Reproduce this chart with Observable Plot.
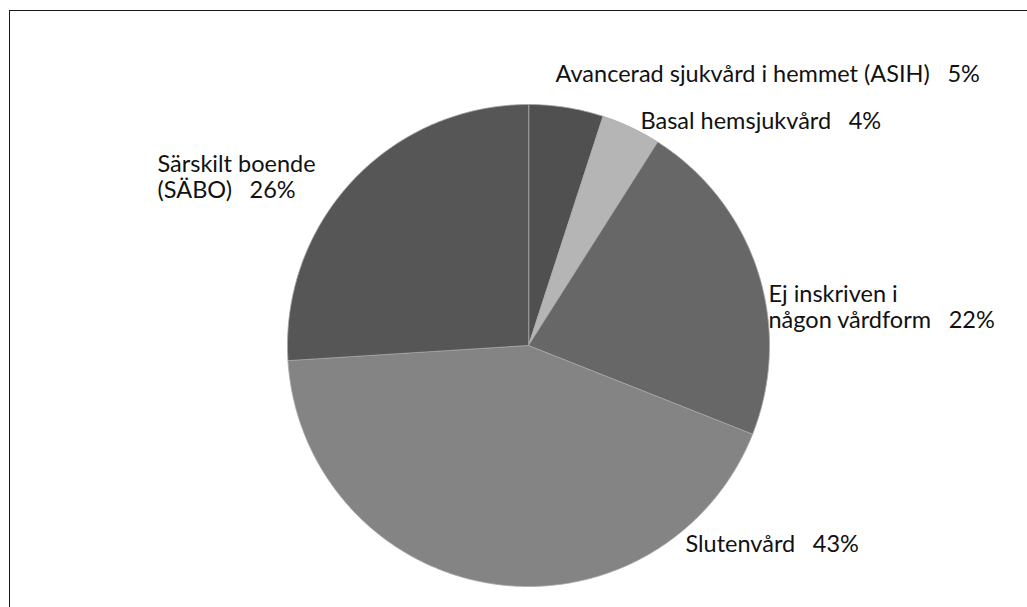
<!DOCTYPE html>
<html><head><meta charset="utf-8">
<script src="https://cdn.jsdelivr.net/npm/d3@7"></script>
<script src="https://cdn.jsdelivr.net/npm/@observablehq/plot@0.6"></script>
<style>
html,body{margin:0;padding:0;background:#fff;overflow:hidden;width:1027px;height:607px;}
#frame{position:absolute;left:9px;top:10px;width:1100px;height:700px;border-left:1.5px solid #1a1a1a;border-top:1.5px solid #1a1a1a;}
#chart{position:absolute;left:0;top:0;}
</style></head><body>
<div id="frame"></div><div id="chart"></div>
<script>
// ---- data ----
const categories = ["Avancerad sjukvård i hemmet (ASIH)", "Basal hemsjukvård", "Ej inskriven i\nnågon vårdform", "Slutenvård", "Särskilt boende\n(SÄBO)"];
const percents = [5, 4, 22, 43, 26];
const sliceColors = ["#505050", "#b5b5b5", "#676767", "#848484", "#565656"];

// ---- layout (label top-left corners, converted to pie-radius units from centre) ----
const cx = 528, cy = 345, r = 241, W = 1027, H = 607;
const labelPx = [[555, 63], [640, 110], [768, 283], [685, 533], [157, 153]];
const labelPos = labelPx.map(([px, py]) => [(px - cx) / r, (cy - py) / r]);

// slices from d3.pie (clockwise from 12 o'clock, data order)
const arcs = d3.pie().sort(null).value(d => d)(percents);
const pts = [];
arcs.forEach((a, i) => {
  const cat = categories[i];
  pts.push({cat, x: 0, y: 0});
  const n = Math.max(2, Math.ceil((a.endAngle - a.startAngle) / 0.01));
  for (let k = 0; k <= n; k++) {
    const t = a.startAngle + (a.endAngle - a.startAngle) * k / n;
    pts.push({cat, x: Math.sin(t), y: Math.cos(t)});
  }
});

const labels = categories.map((c, i) => ({
  text: `${c}\u2003${percents[i]}%`,
  x: labelPos[i][0], y: labelPos[i][1]
}));

const chart = Plot.plot({
  width: W, height: H,
  marginLeft: cx - r, marginRight: W - (cx + r),
  marginTop: cy - r, marginBottom: H - (cy + r),
  x: {domain: [-1, 1], axis: null},
  y: {domain: [-1, 1], axis: null},
  color: {domain: categories, range: sliceColors},
  style: {background: "transparent", overflow: "visible"},
  marks: [
    Plot.line(pts, {x: "x", y: "y", z: "cat", fill: "cat", stroke: "#a8a8a8", strokeWidth: 0.8, curve: "linear-closed"}),
    Plot.text(labels, {x: "x", y: "y", text: "text", textAnchor: "start", lineAnchor: "top",
      fontSize: 23.5, fontFamily: "Lato, 'Open Sans', sans-serif", fill: "#111", lineHeight: 1.1})
  ]
});
document.getElementById("chart").appendChild(chart);
</script>
</body></html>
